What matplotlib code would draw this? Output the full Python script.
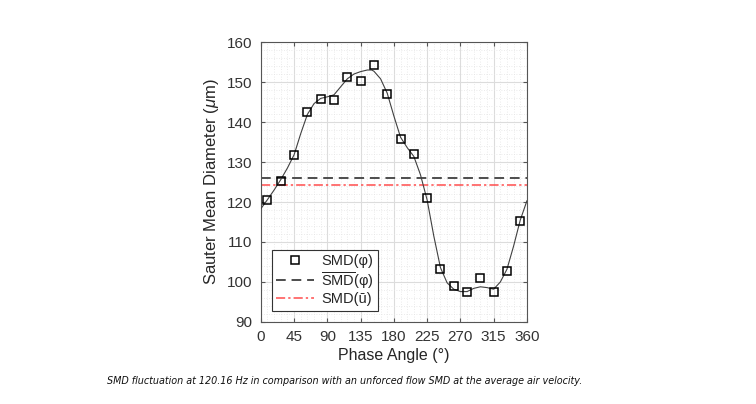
import numpy as np
import matplotlib
matplotlib.use("Agg")
import matplotlib.pyplot as plt
from matplotlib.ticker import MultipleLocator

plt.rcParams['font.family'] = ['Liberation Sans', 'DejaVu Sans']
plt.rcParams['mathtext.fontset'] = 'custom'
plt.rcParams['mathtext.rm'] = 'Liberation Sans'
plt.rcParams['mathtext.it'] = 'Liberation Sans:italic'

# measured SMD at each phase angle
phase = [9, 27, 45, 63, 81, 99, 117, 135, 153, 171,
         189, 207, 225, 243, 261, 279, 297, 315, 333, 351]
smd = [120.6, 125.3, 131.8, 142.4, 145.8, 145.6, 151.2, 150.3, 154.2, 146.9,
       135.8, 132.0, 120.9, 103.2, 98.9, 97.4, 100.9, 97.4, 102.7, 115.2]

# fitted curve
fit_phase = [0, 9, 18, 27, 36, 45, 54, 63, 72, 81, 90, 99, 108, 117, 126, 135,
             144, 150, 153, 162, 171, 180, 189, 198, 207, 216, 225, 234, 243,
             252, 261, 270, 279, 288, 297, 306, 315, 324, 333, 342, 351, 360]
fit_smd = [118.3, 120.6, 123.0, 125.6, 128.5, 131.8, 137.1, 141.9, 144.6, 145.9,
           146.3, 146.8, 148.8, 150.8, 152.0, 152.6, 153.0, 153.0, 152.7, 150.8,
           147.2, 141.5, 136.2, 133.6, 131.4, 126.8, 120.5, 111.5, 103.6,
           99.8, 98.2, 97.6, 97.6, 98.4, 98.8, 98.6, 98.2, 100.0, 103.2, 109.0,
           115.5, 120.3]

smd_mean = 125.9
smd_unforced = 124.3

xticks = [0, 45, 90, 135, 180, 225, 270, 315, 360]
yticks = [90, 100, 110, 120, 130, 140, 150, 160]

fig = plt.figure(figsize=(7.56, 4.04), dpi=100)
ax = fig.add_axes([0.345, 0.203, 0.352, 0.693])

ax.plot(fit_phase, fit_smd, color='#404040', lw=0.8, zorder=3)
ax.plot(phase, smd, ls='none', marker='s', ms=5.5, mfc='none', mec='black',
        mew=1.1, zorder=4, label='SMD(φ)')
ax.axhline(smd_mean, color='#4d4d4d', ls=(0, (5, 3)), lw=1.4, zorder=2,
           label=r'$\overline{\mathrm{SMD}}$(φ)')
ax.axhline(smd_unforced, color='#ff4d4d', ls=(0, (6, 2, 1.5, 2)), lw=1.1, zorder=2,
           label='SMD(ū)')

ax.set_xlim(0, 360)
ax.set_ylim(90, 160)
ax.set_xticks(xticks)
ax.set_yticks(yticks)
ax.xaxis.set_minor_locator(MultipleLocator(9))
ax.yaxis.set_minor_locator(MultipleLocator(2))
ax.grid(which='major', color='#dcdcdc', lw=0.8)
ax.grid(which='minor', color='#e4e4e4', lw=0.6, ls=(0, (1, 2)))
ax.set_axisbelow(True)
ax.tick_params(which='both', direction='in', colors='#555555', labelcolor='#333333',
               labelsize=11, top=True, right=True)
ax.tick_params(which='minor', length=0)
ax.tick_params(which='major', length=3, pad=6)
for s in ax.spines.values():
    s.set_color('#555555')
    s.set_linewidth(0.8)

ax.set_xlabel('Phase Angle (°)', fontsize=11.5, color='#262626', labelpad=3)
ax.set_ylabel(r'Sauter Mean Diameter ($\mu$m)', fontsize=12, color='#262626', labelpad=4)

leg = ax.legend(loc='lower left', bbox_to_anchor=(0.03, 0.03), fontsize=10.5,
                handlelength=2.6, handletextpad=0.5, borderpad=0.3,
                labelspacing=0.12, borderaxespad=0.2, fancybox=False, framealpha=1,
                edgecolor='#333333', markerfirst=True)
leg.get_frame().set_linewidth(0.8)
for t in leg.get_texts():
    t.set_color('#262626')

fig.text(0.456, 0.057, 'SMD fluctuation at 120.16 Hz in comparison with an unforced flow SMD at the average air velocity.',
         ha='center', va='center', fontsize=6.9, style='italic',
         family='DejaVu Sans', color='#111111')

fig.savefig('out.png', dpi=100)
